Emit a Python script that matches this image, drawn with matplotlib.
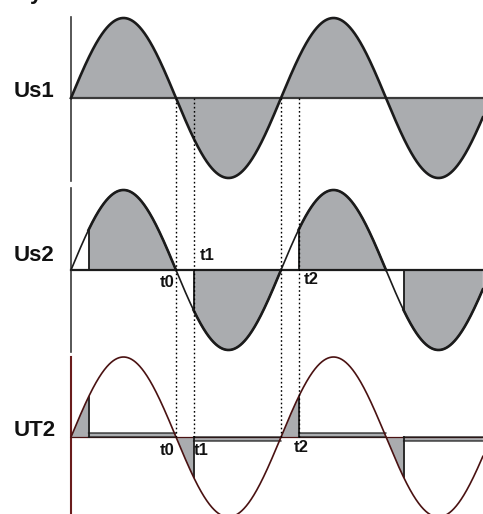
import numpy as np
import matplotlib
matplotlib.use("Agg")
import matplotlib.pyplot as plt

# ---- data ----
trace_labels = ["Us1", "Us2", "UT2"]
amplitude = 1.0                 # relative supply amplitude
firing_angle = 30.0             # degrees, thyristor firing delay
half_period = 180.0
zero_crossings = [180.0, 360.0, 540.0]          # degrees
firing_points = [30.0, 210.0, 390.0, 570.0]      # degrees (zero crossing + alpha)
marker_labels_us2 = ["t0", "t1", "t2"]
marker_labels_ut2 = ["t0", "t1", "t2"]
dotted_marks = [180.0, 210.0, 360.0, 390.0]
forward_drop = 0.05             # thyristor on-state voltage strip (relative)
theta_end = 706.0

# ---- layout (pixel-derived) ----
W, H = 483, 514
px_per_deg = 210.0 / 360.0
x0_px = 71.0
unit_px = 80.0
def X(px):
    return (px - x0_px) / px_per_deg
def Y(py):
    return -py / unit_px

off_us1, off_us2, off_ut2 = Y(98), Y(270), Y(437)

GRAY = "#aaacaf"
DARK = "#1b1b1b"
AXC = "#3a3a3a"
MAROON = "#4a1212"
MAROON_AX = "#6a1c1c"

fig = plt.figure(figsize=(W / 100, H / 100), dpi=100)
ax = fig.add_axes([0, 0, 1, 1])
ax.set_xlim(X(0), X(W))
ax.set_ylim(Y(H), Y(0))
ax.axis("off")

theta = np.linspace(0, theta_end, 4000)
u = amplitude * np.sin(np.radians(theta))
phase = np.mod(theta, half_period)
conducting = phase >= firing_angle
blocking = ~conducting

# ---------- Us1 ----------
ax.fill_between(theta, off_us1, off_us1 + u, color=GRAY, lw=0, zorder=1)
ax.plot([0, theta_end], [off_us1, off_us1], color=AXC, lw=1.6, zorder=3)
ax.plot(theta, off_us1 + u, color=DARK, lw=1.9, zorder=4)
ax.plot([0, 0], [off_us1 + 1.01, off_us1 - 1.04], color=AXC, lw=1.2, zorder=3)

# ---------- Us2 ----------
ax.fill_between(theta, off_us2, off_us2 + u, where=conducting, color=GRAY, lw=0, zorder=1)
ax.plot([0, theta_end], [off_us2, off_us2], color=DARK, lw=1.6, zorder=3)
u_on = np.where(conducting, off_us2 + u, np.nan)
ax.plot(theta, off_us2 + u, color=DARK, lw=1.2, zorder=4)
ax.plot(theta, u_on, color=DARK, lw=1.9, zorder=4)
for fp in firing_points:
    v = amplitude * np.sin(np.radians(fp))
    ax.plot([fp, fp], [off_us2, off_us2 + v], color=DARK, lw=1.3, zorder=4)
ax.plot([0, 0], [off_us2 + 1.02, off_us2 - 1.02], color=AXC, lw=1.2, zorder=3)

# ---------- UT2 ----------
ax.plot([0, theta_end], [off_ut2, off_ut2], color=MAROON, lw=0.9, zorder=2)
ax.fill_between(theta, off_ut2, off_ut2 + u, where=blocking, color=GRAY, lw=0, zorder=1)
sign = np.sign(u)
strip = np.where(conducting, off_ut2 + forward_drop * sign, np.nan)
ax.fill_between(theta, off_ut2, off_ut2 + forward_drop * sign, where=conducting,
                color=GRAY, lw=0, zorder=1)
ax.plot(theta, strip, color=DARK, lw=0.9, zorder=3)
ax.plot(theta, np.where(conducting, off_ut2, np.nan), color=DARK, lw=0.9, zorder=3)
for fp in firing_points:
    v = amplitude * np.sin(np.radians(fp))
    ax.plot([fp, fp], [off_ut2, off_ut2 + v], color=DARK, lw=1.3, zorder=4)
ax.plot(theta, off_ut2 + u, color=MAROON, lw=1.2, zorder=5)
ax.plot([0, 0], [off_ut2 + 1.0, Y(H) - 0.1], color=MAROON_AX, lw=1.5, zorder=3)

# ---------- dotted guide lines ----------
for d in dotted_marks:
    ax.plot([d, d], [off_us1, off_ut2], color="black", lw=1.0,
            linestyle=(0, (1.2, 1.8)), zorder=6)

# ---------- labels ----------
fam = ["Liberation Sans", "DejaVu Sans"]
lab_fs = 16
ax.text(X(14), off_us1 + 6.5 / unit_px, trace_labels[0], fontsize=lab_fs, fontweight="bold",
        family=fam, ha="left", va="center", color="#111111")
ax.text(X(14), off_us2 + 14.5 / unit_px, trace_labels[1], fontsize=lab_fs, fontweight="bold",
        family=fam, ha="left", va="center", color="#111111")
ax.text(X(14), off_ut2 + 6.0 / unit_px, trace_labels[2], fontsize=lab_fs, fontweight="bold",
        family=fam, ha="left", va="center", color="#111111")
ax.text(X(30), Y(-1.5), "y", fontsize=lab_fs, fontweight="bold", family=fam,
        ha="left", va="baseline", color="#111111", clip_on=False)

t_fs = 12
# Us2 markers
ax.text(X(174), off_us2 - 5 / unit_px, marker_labels_us2[0], fontsize=t_fs, fontweight="bold",
        family=fam, ha="right", va="top", color="#111111")
ax.text(X(200), off_us2 + 7 / unit_px, marker_labels_us2[1], fontsize=t_fs, fontweight="bold",
        family=fam, ha="left", va="bottom", color="#111111")
ax.text(X(304), off_us2 - 2 / unit_px, marker_labels_us2[2], fontsize=t_fs, fontweight="bold",
        family=fam, ha="left", va="top", color="#111111")
# UT2 markers
ax.text(X(175), off_ut2 - 6 / unit_px, marker_labels_ut2[0], fontsize=t_fs, fontweight="bold",
        family=fam, ha="right", va="top", color="#111111")
ax.text(X(194), off_ut2 - 6 / unit_px, marker_labels_ut2[1], fontsize=t_fs, fontweight="bold",
        family=fam, ha="left", va="top", color="#111111")
ax.text(X(294), off_ut2 - 3 / unit_px, marker_labels_ut2[2], fontsize=t_fs, fontweight="bold",
        family=fam, ha="left", va="top", color="#111111")

fig.savefig("out.png", dpi=100)
